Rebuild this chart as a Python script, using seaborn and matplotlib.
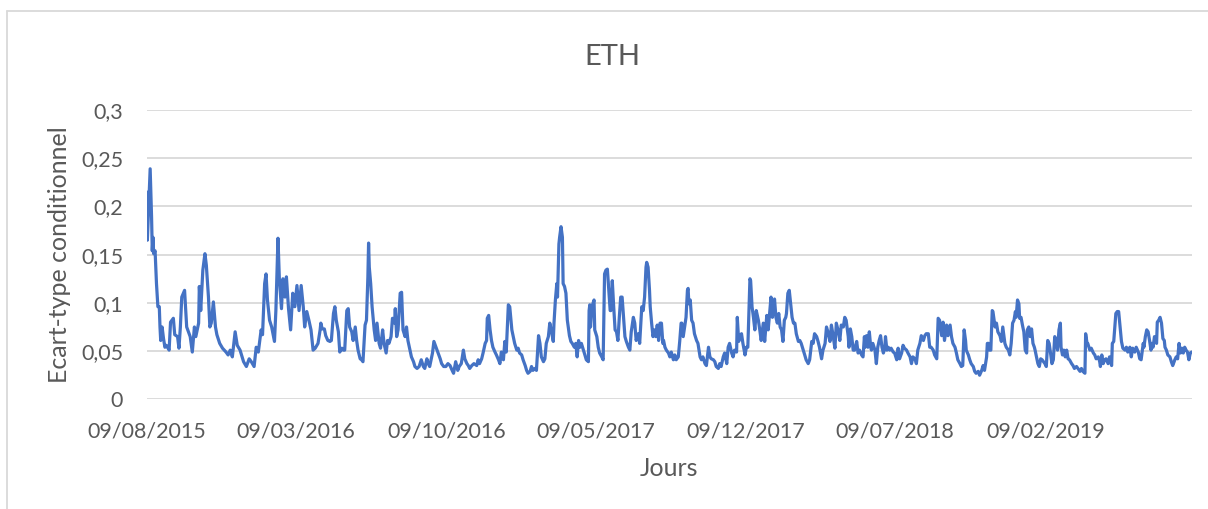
import matplotlib
matplotlib.use("Agg")
import matplotlib.pyplot as plt
from matplotlib.lines import Line2D
from matplotlib.ticker import FuncFormatter
import pandas as pd
import seaborn as sns

# volatilité conditionnelle ETH (jours depuis le 09/08/2015)
debut = "2015-08-09"
jours = [
    0, 1, 3, 5, 7, 8, 9, 10, 12, 14, 16, 18, 19, 20, 22, 24, 26, 28, 32, 34,
    38, 40, 44, 46, 48, 50, 54, 57, 62, 65, 68, 70, 74, 75, 77, 80, 83, 85, 88, 90,
    92, 95, 98, 100, 104, 108, 113, 116, 119, 122, 126, 129, 133, 136, 138, 142, 146, 149, 153, 156,
    159, 163, 165, 168, 170, 172, 175, 178, 182, 184, 187, 189, 192, 194, 197, 199, 202, 205, 208, 211,
    214, 217, 220, 223, 225, 228, 231, 234, 237, 240,
    244, 247, 248, 250, 253, 255, 258, 261, 263, 266, 268, 270, 273, 275, 278, 280, 282, 285, 287, 289,
    292, 294, 297, 299, 301, 304, 306, 308, 311, 313, 315, 316, 317, 319, 321, 324, 326, 328, 331, 333,
    336, 338, 341, 343, 345, 348, 350, 353, 354, 356, 358, 361, 363, 365, 368, 370, 372, 375, 377, 380,
    382, 385, 388, 391, 394, 396, 399, 401, 403, 407, 409, 412, 415, 418, 420, 423, 426, 429, 432, 435,
    437, 440, 443, 445, 448, 451, 453, 456, 458, 460, 463, 466, 470, 472, 474, 477, 479, 482, 484, 485,
    487, 489, 491, 493, 496,
    498, 501, 503, 505, 508, 510, 512, 515, 517, 520, 522, 524, 527, 529, 531, 534, 536, 539, 541, 543,
    546, 548, 550, 553, 555, 558, 560, 562, 565, 567, 569, 572, 574, 576, 579, 580, 582, 584, 585, 587,
    588, 590, 592, 593, 595, 597, 599, 602, 604, 606, 609, 611, 613, 615, 617, 619, 622, 624, 626, 629,
    630, 631, 632, 634, 637, 638, 641, 643, 645, 648, 650, 652, 654, 656, 658, 660, 661, 663, 665, 667,
    669, 671, 673, 675, 677, 679, 681, 683, 686, 688, 690, 693, 695, 697, 700, 702, 705, 707, 709, 711,
    712, 714, 716, 717, 719, 721, 723, 725, 727, 729, 731, 733, 735, 736, 738, 740, 743, 745,
    747, 750, 752, 754, 757, 759, 761, 762, 764, 766, 768, 770, 771, 772, 774, 776, 778, 780, 783, 785,
    788, 790, 792, 795, 797, 800, 802, 804, 807, 809, 811, 814, 816, 818, 821, 823, 826, 828, 830, 833,
    835, 837, 840, 841, 843, 845, 847, 849, 852, 854, 856, 859, 860, 862, 864, 866, 868, 871, 873, 875,
    878, 880, 883, 885, 887, 889, 891, 892, 894, 896, 898, 900, 902, 904, 906, 908, 910, 911, 913, 915,
    917, 919, 921, 923, 925, 928, 930, 932, 935, 937, 939, 942, 944, 947, 949, 951, 954, 956, 958, 961,
    963, 966, 968, 970, 973, 975, 977, 980, 982, 985, 987, 989, 992, 994,
    996, 999, 1000, 1002, 1004, 1006, 1008, 1011, 1013, 1015, 1018, 1020, 1022, 1023, 1025, 1027, 1029, 1031, 1032, 1034,
    1037, 1039, 1041, 1043, 1045, 1047, 1049, 1051, 1052, 1054, 1056, 1058, 1060, 1063, 1065, 1068, 1070, 1072, 1075, 1077,
    1079, 1082, 1084, 1087, 1089, 1091, 1094, 1096, 1098, 1101, 1103, 1106, 1108, 1110, 1113, 1115, 1117, 1120, 1122, 1125,
    1127, 1129, 1132, 1134, 1136, 1139, 1141, 1144, 1146, 1148, 1151, 1153, 1155, 1158, 1160, 1162, 1164, 1166, 1167, 1170,
    1172, 1174, 1177, 1179, 1181, 1184, 1186, 1189, 1191, 1193, 1196, 1197, 1199, 1200, 1202, 1204, 1205, 1208, 1210, 1212,
    1215, 1217, 1219, 1222, 1224, 1227, 1229, 1231, 1233, 1235, 1237, 1238, 1240, 1242, 1243,
    1245, 1247, 1249, 1251, 1253, 1254, 1256, 1258, 1260, 1262, 1264, 1265, 1267, 1269, 1271, 1273, 1275, 1277, 1279, 1281,
    1283, 1285, 1287, 1289, 1291, 1293, 1295, 1297, 1299, 1301, 1302, 1304, 1306, 1308, 1310, 1312, 1314, 1317, 1319, 1321,
    1324, 1326, 1329, 1331, 1333, 1336, 1337, 1339, 1340, 1343, 1345, 1348, 1350, 1352, 1355, 1357, 1358, 1360, 1362, 1364,
    1366, 1369, 1371, 1374, 1375, 1377, 1378, 1380, 1382, 1384, 1386, 1388, 1390, 1393, 1395, 1397, 1400, 1402, 1404, 1407,
    1409, 1412, 1414, 1416, 1419, 1420, 1422, 1424, 1426, 1428, 1430, 1431, 1433, 1435, 1438, 1439, 1441, 1443, 1445, 1447,
    1449, 1450, 1452, 1454, 1457, 1459, 1461, 1464, 1466, 1468, 1470, 1472, 1474, 1476, 1478, 1480, 1482, 1484, 1486, 1488,
]
ecart_type = [
    0.215, 0.165, 0.203, 0.239, 0.189, 0.154, 0.168, 0.151, 0.154, 0.120, 0.096, 0.096, 0.075, 0.061, 0.075, 0.063, 0.054, 0.056, 0.051, 0.080,
    0.084, 0.067, 0.065, 0.053, 0.075, 0.106, 0.113, 0.075, 0.065, 0.049, 0.075, 0.065, 0.079, 0.117, 0.092, 0.134, 0.151, 0.139, 0.106, 0.075,
    0.079, 0.101, 0.075, 0.067, 0.058, 0.053, 0.049, 0.046, 0.051, 0.044, 0.070, 0.056, 0.051, 0.044, 0.039, 0.034, 0.042, 0.039, 0.034, 0.054,
    0.049, 0.072, 0.067, 0.120, 0.130, 0.103, 0.082, 0.075, 0.060, 0.092, 0.167, 0.124, 0.094, 0.125, 0.106, 0.127, 0.094, 0.072, 0.110, 0.096,
    0.118, 0.092, 0.118, 0.096, 0.075, 0.091, 0.082, 0.072, 0.051, 0.053,
    0.058, 0.072, 0.079, 0.073, 0.073, 0.066, 0.061, 0.060, 0.061, 0.089, 0.096, 0.082, 0.070, 0.049, 0.053, 0.051, 0.051, 0.092, 0.094, 0.075,
    0.070, 0.061, 0.075, 0.061, 0.051, 0.042, 0.041, 0.039, 0.077, 0.082, 0.127, 0.162, 0.137, 0.120, 0.096, 0.072, 0.061, 0.079, 0.058, 0.053,
    0.072, 0.058, 0.048, 0.061, 0.058, 0.065, 0.084, 0.079, 0.094, 0.065, 0.072, 0.110, 0.111, 0.072, 0.065, 0.075, 0.061, 0.051, 0.044, 0.039,
    0.034, 0.032, 0.034, 0.041, 0.034, 0.032, 0.042, 0.037, 0.034, 0.048, 0.060, 0.054, 0.048, 0.042, 0.037, 0.034, 0.034, 0.037, 0.035, 0.030,
    0.027, 0.039, 0.030, 0.034, 0.037, 0.051, 0.042, 0.037, 0.035, 0.032, 0.035, 0.037, 0.035, 0.041, 0.037, 0.042, 0.048, 0.058, 0.061, 0.084,
    0.087, 0.072, 0.061, 0.054, 0.049,
    0.046, 0.041, 0.037, 0.049, 0.041, 0.060, 0.049, 0.098, 0.096, 0.072, 0.065, 0.058, 0.051, 0.053, 0.048, 0.046, 0.041, 0.035, 0.030, 0.027,
    0.029, 0.034, 0.030, 0.032, 0.030, 0.066, 0.058, 0.044, 0.039, 0.042, 0.058, 0.065, 0.079, 0.072, 0.060, 0.079, 0.103, 0.120, 0.106, 0.161,
    0.168, 0.179, 0.168, 0.120, 0.117, 0.110, 0.082, 0.066, 0.060, 0.058, 0.054, 0.058, 0.044, 0.061, 0.054, 0.058, 0.051, 0.046, 0.041, 0.039,
    0.092, 0.098, 0.075, 0.096, 0.103, 0.072, 0.065, 0.054, 0.048, 0.044, 0.041, 0.130, 0.134, 0.135, 0.113, 0.092, 0.092, 0.123, 0.096, 0.072,
    0.070, 0.061, 0.085, 0.106, 0.106, 0.085, 0.065, 0.060, 0.054, 0.051, 0.070, 0.085, 0.079, 0.061, 0.068, 0.058, 0.096, 0.092, 0.106, 0.137,
    0.142, 0.137, 0.113, 0.096, 0.079, 0.065, 0.072, 0.065, 0.077, 0.061, 0.079, 0.079, 0.058, 0.061, 0.054, 0.051, 0.048, 0.044,
    0.049, 0.041, 0.046, 0.041, 0.044, 0.060, 0.079, 0.079, 0.065, 0.075, 0.085, 0.113, 0.115, 0.099, 0.103, 0.082, 0.079, 0.068, 0.061, 0.058,
    0.044, 0.041, 0.044, 0.037, 0.035, 0.054, 0.044, 0.042, 0.041, 0.039, 0.034, 0.032, 0.037, 0.034, 0.044, 0.048, 0.037, 0.054, 0.058, 0.048,
    0.044, 0.051, 0.049, 0.085, 0.060, 0.066, 0.068, 0.058, 0.046, 0.054, 0.054, 0.125, 0.123, 0.096, 0.085, 0.072, 0.092, 0.082, 0.072, 0.061,
    0.079, 0.060, 0.087, 0.072, 0.089, 0.106, 0.085, 0.092, 0.104, 0.085, 0.079, 0.089, 0.075, 0.072, 0.060, 0.082, 0.085, 0.089, 0.110, 0.113,
    0.099, 0.085, 0.079, 0.079, 0.068, 0.060, 0.061, 0.058, 0.051, 0.046, 0.041, 0.037, 0.041, 0.060, 0.058, 0.068, 0.065, 0.060, 0.054, 0.042,
    0.051, 0.058, 0.075, 0.070, 0.060, 0.077, 0.068, 0.053, 0.079, 0.070, 0.061, 0.077, 0.075, 0.085,
    0.082, 0.065, 0.054, 0.073, 0.065, 0.051, 0.051, 0.060, 0.048, 0.051, 0.046, 0.044, 0.065, 0.054, 0.066, 0.054, 0.070, 0.054, 0.051, 0.058,
    0.051, 0.037, 0.054, 0.061, 0.066, 0.054, 0.048, 0.053, 0.065, 0.051, 0.054, 0.051, 0.053, 0.049, 0.048, 0.041, 0.053, 0.042, 0.048, 0.056,
    0.053, 0.051, 0.048, 0.044, 0.037, 0.044, 0.042, 0.037, 0.051, 0.058, 0.066, 0.061, 0.066, 0.068, 0.068, 0.054, 0.054, 0.051, 0.046, 0.042,
    0.084, 0.082, 0.066, 0.080, 0.061, 0.077, 0.066, 0.077, 0.065, 0.058, 0.054, 0.048, 0.041, 0.037, 0.034, 0.035, 0.072, 0.061, 0.051, 0.046,
    0.041, 0.037, 0.034, 0.029, 0.027, 0.029, 0.025, 0.030, 0.035, 0.030, 0.044, 0.058, 0.058, 0.051, 0.051, 0.092, 0.091, 0.075, 0.079, 0.070,
    0.066, 0.060, 0.075, 0.058, 0.054, 0.051, 0.046, 0.058, 0.079, 0.082, 0.091, 0.085, 0.103, 0.099, 0.084,
    0.085, 0.077, 0.070, 0.051, 0.048, 0.072, 0.075, 0.065, 0.073, 0.058, 0.054, 0.051, 0.044, 0.037, 0.034, 0.042, 0.041, 0.039, 0.037, 0.034,
    0.061, 0.058, 0.048, 0.037, 0.041, 0.065, 0.060, 0.051, 0.072, 0.079, 0.054, 0.046, 0.051, 0.044, 0.051, 0.042, 0.041, 0.037, 0.035, 0.032,
    0.034, 0.032, 0.029, 0.032, 0.029, 0.027, 0.068, 0.058, 0.058, 0.051, 0.053, 0.048, 0.046, 0.042, 0.044, 0.039, 0.034, 0.046, 0.037, 0.041,
    0.042, 0.037, 0.044, 0.035, 0.058, 0.060, 0.070, 0.089, 0.091, 0.091, 0.075, 0.060, 0.053, 0.051, 0.054, 0.049, 0.054, 0.044, 0.053, 0.049,
    0.054, 0.049, 0.042, 0.041, 0.058, 0.054, 0.065, 0.072, 0.070, 0.061, 0.051, 0.058, 0.054, 0.065, 0.058, 0.080, 0.082, 0.085, 0.079, 0.063,
    0.061, 0.054, 0.051, 0.046, 0.044, 0.039, 0.035, 0.041, 0.044, 0.042, 0.058, 0.048, 0.053, 0.048, 0.054, 0.051, 0.049, 0.041, 0.048, 0.049,
]

y_ticks = [0, 0.05, 0.1, 0.15, 0.2, 0.25, 0.3]
x_tick_labels = ["09/08/2015", "09/03/2016", "09/10/2016", "09/05/2017",
                 "09/12/2017", "09/07/2018", "09/02/2019"]

TEXT = "#595959"
GRID = "#D9D9D9"

df = pd.DataFrame({
    "date": pd.Timestamp(debut) + pd.to_timedelta(jours, unit="D"),
    "sigma": ecart_type,
})

sns.set_style("white")
plt.rcParams["font.family"] = ["Lato", "DejaVu Sans"]

fig = plt.figure(figsize=(12.08, 5.09), dpi=100)
ax = fig.add_axes([0.1214, 0.2155, 0.8651, 0.5684])

sns.lineplot(data=df, x="date", y="sigma", ax=ax, color="#4472C4", linewidth=2.3)

ax.set_ylim(0, 0.3)
ax.set_yticks(y_ticks)
ax.yaxis.set_major_formatter(FuncFormatter(lambda v, _: f"{v:g}".replace(".", ",")))
ax.set_xlim(df["date"].iloc[0], df["date"].iloc[-1])
ax.set_xticks(pd.to_datetime(x_tick_labels, dayfirst=True))
ax.set_xticklabels(x_tick_labels)

ax.yaxis.grid(True, color=GRID, linewidth=1.3)
ax.set_axisbelow(True)
for s in ax.spines.values():
    s.set_visible(False)
ax.tick_params(axis="both", length=0, labelsize=15.5, labelcolor=TEXT)
ax.tick_params(axis="y", pad=17)
ax.tick_params(axis="x", pad=16)

ax.set_xlabel("Jours", fontsize=18, color=TEXT, labelpad=11)
ax.set_ylabel("Ecart-type conditionnel", fontsize=18, color=TEXT, labelpad=7)
fig.text(612 / 1208, 1 - 57 / 509, "ETH", fontsize=21, color=TEXT, ha="center", va="center")

# cadre du graphique
fig.add_artist(Line2D([7.5 / 1208, 7.5 / 1208], [0, 1 - 11 / 509], color=GRID, linewidth=1.3))
fig.add_artist(Line2D([7.5 / 1208, 1], [1 - 11 / 509, 1 - 11 / 509], color=GRID, linewidth=1.3))

fig.savefig("out.png", dpi=100)
